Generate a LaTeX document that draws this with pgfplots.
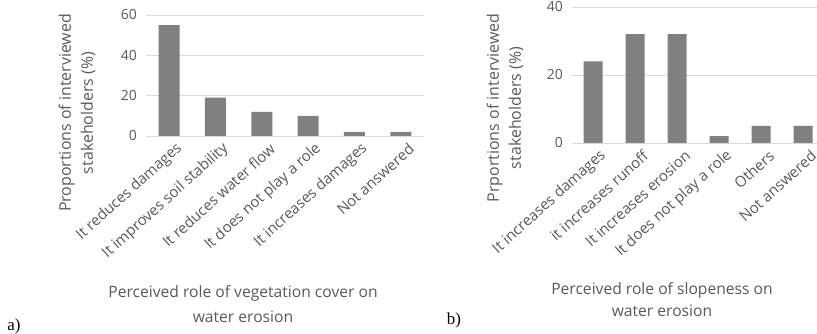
\documentclass[border=0pt]{standalone}
\usepackage{fontspec}
\setmainfont{Open Sans}
\newfontfamily\timesf{Liberation Serif}
\usepackage{pgfplots}
\pgfplotsset{compat=1.18}
\definecolor{txt}{RGB}{89,89,89}
\definecolor{barc}{RGB}{128,128,128}
\definecolor{gridc}{RGB}{217,217,217}
\pgfplotsset{
  exstyle/.style={
    scale only axis,
    ybar,
    ymin=0,
    xtick=data,
    axis line style={draw=none},
    ymajorgrids,
    major grid style={gridc, line width=0.8pt},
    major tick length=0pt,
    tick label style={text=txt},
    yticklabel style={font=\fontsize{14}{16}\selectfont, inner sep=2pt, xshift=-7bp},
    /pgf/number format/assume math mode=true,
    xticklabel style={font=\fontsize{15}{17}\selectfont, rotate=42, anchor=east, inner sep=1pt, yshift=-15bp, xshift=2bp},
    clip=false,
  }
}
\begin{document}
\begin{tikzpicture}
\path[use as bounding box] (0,0) rectangle (817bp,334bp);
\begin{axis}[exstyle,
  at={(146bp,198bp)}, anchor=south west,
  width=278bp, height=121bp,
  xmin=-0.5, xmax=5.5, ymax=60, ytick={0,20,40,60},
  bar width=21bp,
  xticklabels={It reduces damages, It improves soil stability, It reduces water flow, It does not play a role, It increases damages, Not answered},
]
\addplot[fill=barc, draw=none] coordinates {(0,55) (1,19) (2,12) (3,10) (4,2) (5,2)};
\end{axis}
\begin{axis}[exstyle,
  at={(572bp,191bp)}, anchor=south west,
  width=245bp, height=136bp,
  xmin=-0.5, xmax=5.33, ymax=40, ytick={0,20,40},
  bar width=19bp,
  xticklabels={It increases damages, it increases runoff, It increases erosion, It does not play a role, Others, Not answered},
]
\addplot[fill=barc, draw=none] coordinates {(0,24) (1,32) (2,32) (3,2) (4,5) (5,5)};
\end{axis}
\node[rotate=90, align=center, text=txt, font=\fontsize{16}{22}\selectfont] at (77bp,221bp) {Proportions of interviewed\\stakeholders (\%)};
\node[rotate=90, align=center, text=txt, font=\fontsize{16}{22}\selectfont] at (505bp,226bp) {Prportions of interviewed\\stakeholders (\%)};
\node[align=center, text=txt, font=\fontsize{15.7}{25}\selectfont] at (243bp,30bp) {Perceived role of vegetation cover on\\water erosion};
\node[align=center, text=txt, font=\fontsize{15.7}{22}\selectfont] at (662bp,34bp) {Perceived role of slopeness on\\water erosion};
\node[font=\timesf\fontsize{17}{18}\selectfont] at (14bp,8bp) {a)};
\node[font=\timesf\fontsize{17}{18}\selectfont] at (454bp,14bp) {b)};
\end{tikzpicture}
\end{document}
